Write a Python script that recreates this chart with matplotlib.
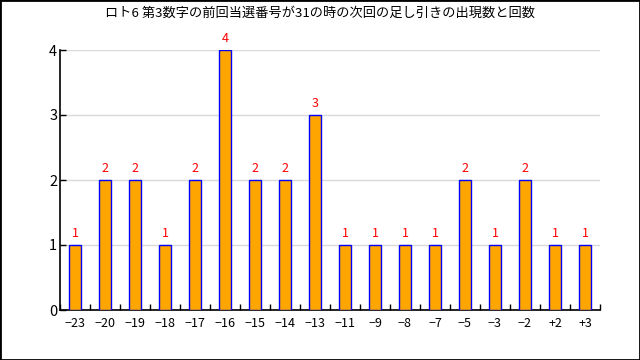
import matplotlib
matplotlib.use("Agg")
import matplotlib.pyplot as plt
from matplotlib.patches import Rectangle
import numpy as np

plt.rcParams['font.family'] = ['Noto Sans CJK JP', 'DejaVu Sans']

title = "ロト6 第3数字の前回当選番号が31の時の次回の足し引きの出現数と回数"
labels = ["-23", "-20", "-19", "-18", "-17", "-16", "-15", "-14", "-13",
          "-11", "-9", "-8", "-7", "-5", "-3", "-2", "+2", "+3"]
counts = [1, 2, 2, 1, 2, 4, 2, 2, 3, 1, 1, 1, 1, 2, 1, 2, 1, 1]

fig = plt.figure(figsize=(6.4, 3.6), dpi=100)
ax = fig.add_axes([60 / 640, 50 / 360, 540 / 640, 260 / 360])

x = np.arange(len(labels))
ax.bar(x, counts, width=0.4, color="orange", edgecolor="blue", linewidth=1, zorder=3)
for xi, c in zip(x, counts):
    ax.text(xi, c + 0.08, str(c), color="red", ha="center", va="bottom", fontsize=9)

ax.set_xlim(-0.5, len(labels) - 0.5)
ax.set_ylim(0, 4)
ax.set_yticks([0, 1, 2, 3, 4])
ax.yaxis.grid(True, color="#d9d9d9", linewidth=1, zorder=0)
ax.set_xticks(x)
ax.set_xticklabels([l.replace("-", "\u2212") for l in labels])
ax.set_xticks(np.arange(-0.5, len(labels)), minor=True)
ax.tick_params(axis="x", which="major", length=0, labelsize=9, pad=5)
ax.tick_params(axis="x", which="minor", direction="in", length=4, width=1)
ax.tick_params(axis="y", direction="in", length=4, width=1, labelsize=10.5, pad=2)
for s in ["top", "right"]:
    ax.spines[s].set_visible(False)
ax.spines["left"].set_linewidth(1.2)
ax.spines["bottom"].set_linewidth(1.2)

fig.text(0.5, 1 - 13 / 360, title, ha="center", va="center", fontsize=9.5)
fig.patches.append(Rectangle((0, 0), 1, 1, transform=fig.transFigure,
                             fill=False, edgecolor="black", linewidth=2))

fig.savefig("out.png", dpi=100)
